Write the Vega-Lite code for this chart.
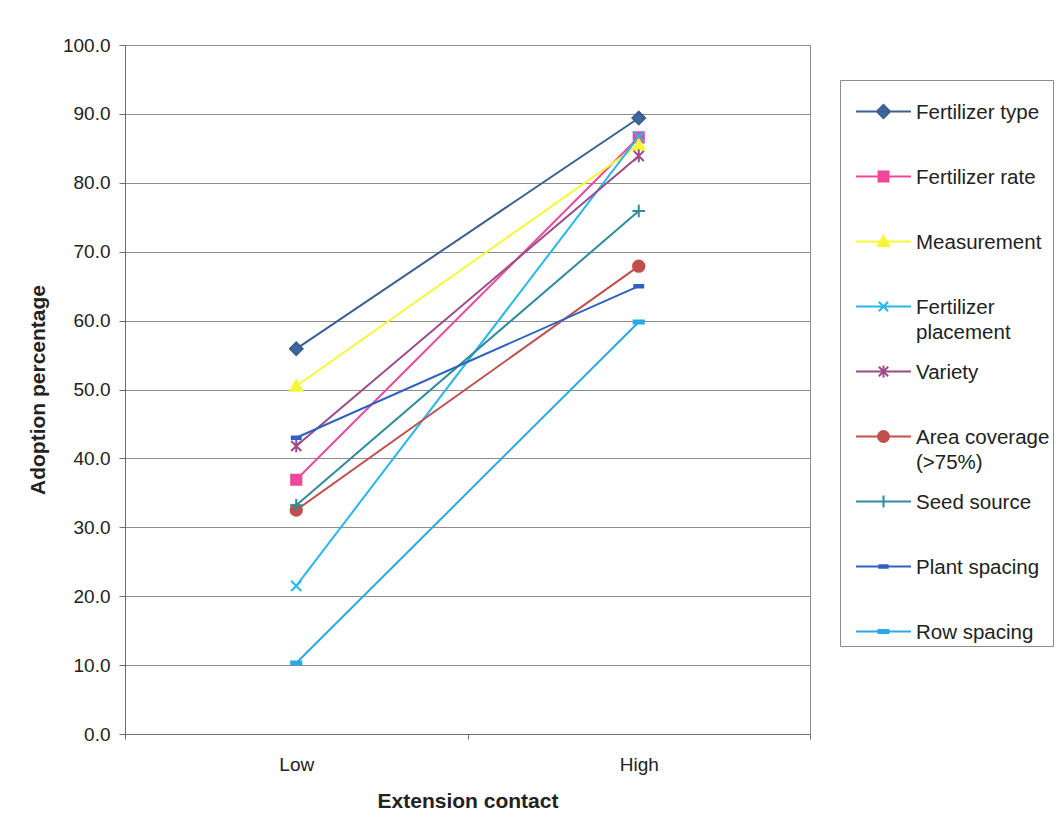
{
  "$schema": "https://vega.github.io/schema/vega-lite/v6.json",
  "width": 685,
  "height": 689,
  "autosize": {"type": "none"},
  "padding": {"left": 125, "top": 45, "right": 247, "bottom": 106},
  "background": "white",
  "config": {
    "font": "Liberation Sans",
    "view": {"stroke": "#8c8c8c", "strokeWidth": 1},
    "axis": {"labelFont": "Liberation Sans", "titleFont": "Liberation Sans", "labelColor": "#222", "titleColor": "#222"}
  },
  "data": {
    "values": [
      {"series": "Fertilizer type", "contact": "Low", "value": 55.9},
      {"series": "Fertilizer type", "contact": "High", "value": 89.4},
      {"series": "Fertilizer rate", "contact": "Low", "value": 36.9},
      {"series": "Fertilizer rate", "contact": "High", "value": 86.6},
      {"series": "Measurement", "contact": "Low", "value": 50.5},
      {"series": "Measurement", "contact": "High", "value": 85.5},
      {"series": "Fertilizer placement", "contact": "Low", "value": 21.5},
      {"series": "Fertilizer placement", "contact": "High", "value": 86.7},
      {"series": "Variety", "contact": "Low", "value": 41.8},
      {"series": "Variety", "contact": "High", "value": 83.9},
      {"series": "Area coverage (>75%)", "contact": "Low", "value": 32.5},
      {"series": "Area coverage (>75%)", "contact": "High", "value": 67.9},
      {"series": "Seed source", "contact": "Low", "value": 33.2},
      {"series": "Seed source", "contact": "High", "value": 75.9},
      {"series": "Plant spacing", "contact": "Low", "value": 43.0},
      {"series": "Plant spacing", "contact": "High", "value": 65.0},
      {"series": "Row spacing", "contact": "Low", "value": 10.3},
      {"series": "Row spacing", "contact": "High", "value": 59.8}
    ]
  },
  "encoding": {
    "x": {
      "field": "contact", "type": "nominal", "sort": ["Low", "High"],
      "scale": {"type": "band", "paddingInner": 0, "paddingOuter": 0},
      "axis": {
        "title": "Extension contact", "labelAngle": 0, "tickBand": "extent",
        "labelFontSize": 19, "titleFontSize": 21, "titleFontWeight": "bold",
        "domainColor": "#6e6e6e", "tickColor": "#6e6e6e", "tickSize": 5,
        "labelPadding": 16, "titlePadding": 16, "grid": false
      }
    },
    "y": {
      "field": "value", "type": "quantitative",
      "scale": {"domain": [0, 100], "nice": false},
      "axis": {
        "title": "Adoption percentage", "values": [0,10,20,30,40,50,60,70,80,90,100], "format": ".1f",
        "labelFontSize": 19, "titleFontSize": 21, "titleFontWeight": "bold",
        "domainColor": "#6e6e6e", "tickColor": "#6e6e6e", "tickSize": 6,
        "labelPadding": 9, "titlePadding": 14,
        "grid": true, "gridColor": "#8c8c8c", "gridOpacity": 1
      }
    }
  },
  "layer": [
    {
      "mark": {"type": "line", "strokeWidth": 2},
      "encoding": {
        "stroke": {"field": "series", "type": "nominal",
          "scale": {"domain": ["Fertilizer type","Fertilizer rate","Measurement","Fertilizer placement","Variety","Area coverage (>75%)","Seed source","Plant spacing","Row spacing"],
                    "range": ["#3a5f91","#f0479a","#f7f73a","#27b8ea","#9b4a8a","#c0504d","#2e8c9c","#2f62c0","#28a8e6"]},
          "legend": {
            "orient": "none", "legendX": 715, "legendY": 35, "title": null,
            "strokeColor": "#8c8c8c", "fillColor": "white", "padding": 3,
            "labelFontSize": 20.5, "labelColor": "#222", "labelFont": "Liberation Sans",
            "symbolSize": 3025, "symbolStrokeWidth": 2, "symbolOffset": 12,
            "labelOffset": 4, "rowPadding": 0, "gridAlign": "all", "labelLimit": 300,
            "labelBaseline": "alphabetic",
            "labelExpr": "datum.label == 'Fertilizer placement' ? ['Fertilizer', 'placement'] : datum.label == 'Area coverage (>75%)' ? ['Area coverage', '(>75%)'] : datum.label",
            "encode": {
              "labels": {"update": {"dy": {"value": 7}, "lineHeight": {"value": 25}}},
              "symbols": {"update": {
                "strokeWidth": {"value": 2},
                "opacity": {"value": 1},
                "shape": {"signal": "['M-1,0H1M0,-0.24L0.24,0L0,0.24L-0.24,0Z','M-1,0H1M-0.18,-0.18H0.18V0.18H-0.18Z','M-1,0H1M0,-0.2L0.21,0.165H-0.21Z','M-1,0H1M-0.17,-0.17L0.17,0.17M-0.17,0.17L0.17,-0.17','M-1,0H1M-0.17,-0.17L0.17,0.17M-0.17,0.17L0.17,-0.17M0,-0.22V0.22','M-1,0H1M-0.2,0A0.2,0.2 0 1,0 0.2,0A0.2,0.2 0 1,0 -0.2,0Z','M-1,0H1M0,-0.22V0.22','M-1,0H1M-0.15,-0.045H0.15V0.045H-0.15Z','M-1,0H1M-0.18,-0.055H0.18V0.055H-0.18Z'][datum.index]"}
              }}
            }
          }
        }
      }
    },
    {
      "mark": {"type": "point", "filled": true, "opacity": 1, "size": 160, "strokeWidth": 2},
      "encoding": {
        "stroke": {"field": "series", "type": "nominal"},
        "fill": {"field": "series", "type": "nominal",
          "scale": {"domain": ["Fertilizer type","Fertilizer rate","Measurement","Fertilizer placement","Variety","Area coverage (>75%)","Seed source","Plant spacing","Row spacing"],
                    "range": ["#3f68a0","#f0479a","#f7f73a","#27b8ea","#9b4a8a","#c0504d","#2e8c9c","#2f62c0","#28a8e6"]}},
        "shape": {"field": "series", "type": "nominal", "legend": null,
          "sort": ["Fertilizer type","Fertilizer rate","Measurement","Fertilizer placement","Variety","Area coverage (>75%)","Seed source","Plant spacing","Row spacing"],
          "scale": {"range": ["M0,-1L1,0L0,1L-1,0Z","M-0.8,-0.8H0.8V0.8H-0.8Z","M0,-0.9L0.95,0.75H-0.95Z","M-0.8,-0.8L0.8,0.8M-0.8,0.8L0.8,-0.8","M-0.8,-0.8L0.8,0.8M-0.8,0.8L0.8,-0.8M0,-1V1","M-0.9,0A0.9,0.9 0 1,0 0.9,0A0.9,0.9 0 1,0 -0.9,0Z","M-1,0H1M0,-1V1","M-0.7,-0.2H0.7V0.2H-0.7Z","M-0.8,-0.25H0.8V0.25H-0.8Z"]}}
      }
    }
  ]
}
